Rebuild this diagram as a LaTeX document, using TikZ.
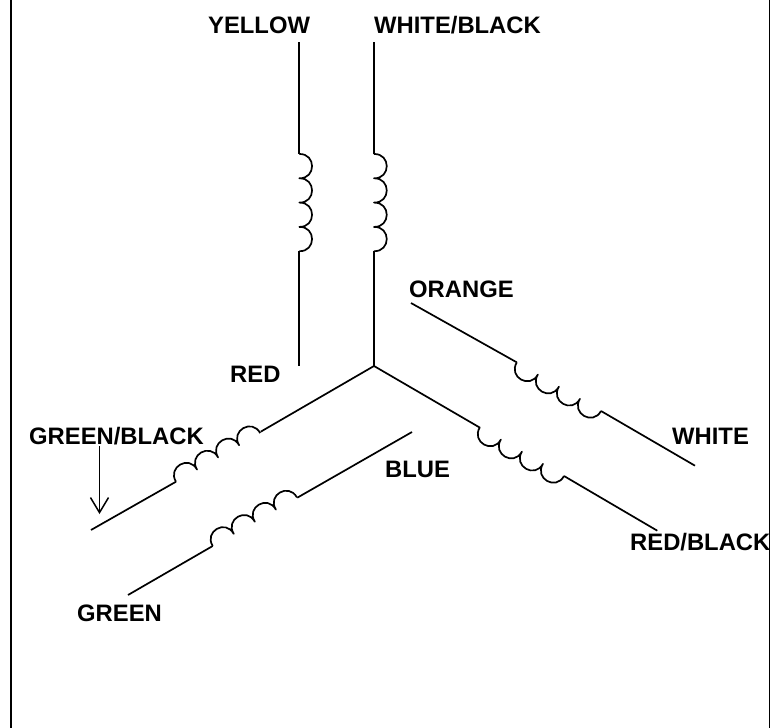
\documentclass[tikz,border=0pt]{standalone}
\usepackage{fontspec}
\setmainfont{Liberation Sans}
\usetikzlibrary{arrows.meta}
\tikzset{
  x=1pt,y=-1pt,
  wire/.style={line width=1.7pt,line cap=butt,line join=round,black},
  border/.style={line width=1.8pt,black},
  lab/.style={anchor=base west,inner sep=0pt,font=\bfseries\fontsize{23.8}{26}\selectfont},
  pics/coil/.style={code={
    \draw[wire] (0,0)
      .. controls (-0.5,-17) and (24.8,-17) .. (24.3,0)
      .. controls (23.8,-17) and (49.1,-17) .. (48.6,0)
      .. controls (48.1,-17) and (73.4,-17) .. (72.9,0)
      .. controls (72.4,-17) and (97.7,-17) .. (97.2,0);
  }}
}
\begin{document}
\begin{tikzpicture}
\useasboundingbox (0,0) rectangle (782,728);
% border
\coordinate (bl1) at (11,0); \coordinate (bl2) at (11,728);
\coordinate (br1) at (769.5,0); \coordinate (br2) at (769.5,728);
% labels
\node[lab] (yellow) at (208,33) {YELLOW};
\node[lab] (whiteblack) at (374,33) {WHITE/BLACK};
\node[lab] (orange) at (409,297) {ORANGE};
\node[lab] (white) at (672,444) {WHITE};
\node[lab] (red) at (230,382) {RED};
\node[lab] (greenblack) at (29,444) {GREEN/BLACK};
\node[lab] (blue) at (385,477) {BLUE};
\node[lab] (redblack) at (630,550) {RED/BLACK};
\node[lab] (green) at (77,621) {GREEN};
% junctions
\coordinate (c) at (374,366);
\coordinate (a1) at (299.3,42); \coordinate (a2) at (299.3,154); \coordinate (a3) at (299.3,251.2); \coordinate (a4) at (299.3,366);
\coordinate (b1) at (374,42); \coordinate (b2) at (374,154); \coordinate (b3) at (374,251.2);
\coordinate (d1) at (91,530); \coordinate (d2) at (176,481.7); \coordinate (d3) at (260.7,431.7);
\coordinate (e1) at (128,595); \coordinate (e2) at (212.7,546); \coordinate (e3) at (297.3,497.7); \coordinate (e4) at (412,432);
\coordinate (f1) at (411,303); \coordinate (f2) at (516.7,362.3); \coordinate (f3) at (601,411); \coordinate (f4) at (695,465.7);
\coordinate (g2) at (480,427.7); \coordinate (g3) at (564,476); \coordinate (g4) at (657.3,530.7);
\coordinate (t1) at (99.5,446); \coordinate (t2) at (99.5,514);
% wires
\draw[border] (bl1) -- (bl2);
\draw[border] (br1) -- (br2);
\draw[wire] (a1) -- (a2);
\draw[wire] (a3) -- (a4);
\draw[wire] (b1) -- (b2);
\draw[wire] (b3) -- (c);
\draw[wire] (d1) -- (d2);
\draw[wire] (d3) -- (c);
\draw[wire] (e1) -- (e2);
\draw[wire] (e3) -- (e4);
\draw[wire] (f1) -- (f2);
\draw[wire] (f3) -- (f4);
\draw[wire] (c) -- (g2);
\draw[wire] (g3) -- (g4);
% coils
\pic[rotate=-90] at (a2) {coil};
\pic[rotate=-90] at (b2) {coil};
\pic[rotate=30] at (d2) {coil};
\pic[rotate=30] at (e2) {coil};
\pic[rotate=150] at (f3) {coil};
\pic[rotate=150] at (g3) {coil};
% arrow
\draw[wire,-{Straight Barb[length=15pt,width=18pt,line width=1.5pt]}] (t1) -- (t2);
\end{tikzpicture}
\end{document}
